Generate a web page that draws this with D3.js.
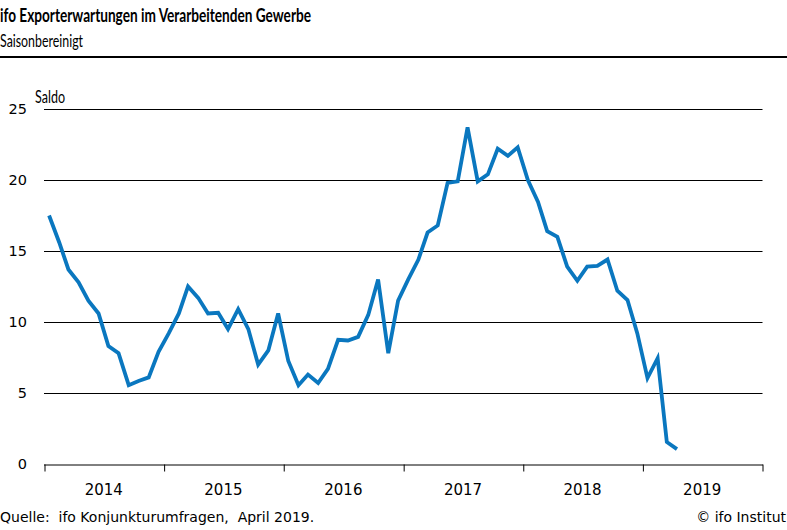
<!DOCTYPE html>
<html><head><meta charset="utf-8">
<script src="https://cdn.jsdelivr.net/npm/d3@7"></script>
<style>body{margin:0;background:#fff}svg{display:block}</style>
</head><body>
<script>
const title = "ifo Exporterwartungen im Verarbeitenden Gewerbe";
const subtitle = "Saisonbereinigt";
const unitLabel = "Saldo";
const source = "Quelle:  ifo Konjunkturumfragen,  April 2019.";
const copyright = "© ifo Institut";
const years = [2014, 2015, 2016, 2017, 2018, 2019];
const yTicks = [0, 5, 10, 15, 20, 25];
// monthly values Jan 2014 .. Apr 2019
const values = [
 17.5,15.6,13.7,12.8,11.5,10.6,8.3,7.8,5.55,5.85,6.1,7.9,
 9.2,10.6,12.5,11.7,10.6,10.65,9.5,10.9,9.5,7.0,8.0,10.6,
 7.25,5.55,6.3,5.7,6.7,8.75,8.7,8.95,10.5,13.0,7.8,11.5,
 13.0,14.4,16.3,16.8,19.8,19.9,23.7,19.9,20.4,22.2,21.7,22.3,
 20.0,18.45,16.4,16.0,13.9,12.9,13.9,13.95,14.4,12.2,11.55,9.2,
 6.05,7.45,1.55,1.05
];
const data = values.map((v,i)=>({date:new Date(2014, i, 15), v}));

const W=787,H=530;
const svg=d3.select("body").append("svg").attr("width",W).attr("height",H);
const x=d3.scaleTime().domain([new Date(2014,0,1),new Date(2020,0,1)]).range([44.5,762.5]);
const y=d3.scaleLinear().domain([0,25]).range([464,109]);

const tf="'Liberation Sans Narrow', Lato, sans-serif";
const af="'DejaVu Sans', Verdana, sans-serif";

svg.append("text").attr("x",0).attr("y",22).attr("font-family",tf).attr("font-weight","bold")
 .attr("font-size",18).attr("fill","#000").attr("textLength",311).attr("lengthAdjust","spacingAndGlyphs").text(title);
svg.append("text").attr("x",0).attr("y",47).attr("font-family",tf)
 .attr("font-size",17).attr("fill","#000").attr("textLength",83).attr("lengthAdjust","spacingAndGlyphs").text(subtitle);
svg.append("line").attr("x1",0).attr("x2",787).attr("y1",57).attr("y2",57).attr("stroke","#000").attr("stroke-width",2);
svg.append("text").attr("x",35).attr("y",103).attr("font-family",tf).attr("font-size",17)
 .attr("textLength",30).attr("lengthAdjust","spacingAndGlyphs").text(unitLabel);

// grid
const g=svg.append("g");
g.selectAll("line.grid").data(yTicks.filter(d=>d>0)).join("line")
 .attr("x1",44).attr("x2",762.5).attr("y1",d=>Math.round(y(d))+0.5).attr("y2",d=>Math.round(y(d))+0.5)
 .attr("stroke","#000").attr("stroke-width",1);
g.selectAll("text.yl").data(yTicks).join("text")
 .attr("x",27).attr("y",d=>y(d)+5).attr("text-anchor","end")
 .attr("font-family",af).attr("font-size",14.5).text(d=>d);

// x axis
const xAxis=d3.axisBottom(x).tickValues(d3.range(2014,2021).map(yr=>new Date(yr,0,1)))
 .tickSize(7).tickFormat("");
const ax=svg.append("g").attr("transform","translate(0,464.5)").call(xAxis);
ax.select(".domain").attr("stroke","#000").attr("d","M44,0.5H763");
ax.selectAll(".tick line").attr("stroke","#000");
svg.selectAll("text.xl").data(years).join("text")
 .attr("x",d=>x(new Date(d,6,1))).attr("y",495).attr("text-anchor","middle")
 .attr("font-family",af).attr("font-size",15).text(d=>d);

// line
svg.append("path").datum(data).attr("fill","none").attr("stroke","#0a77bf").attr("stroke-width",3.8)
 .attr("stroke-linejoin","miter").attr("d",d3.line().x(d=>x(d.date)).y(d=>y(d.v)));

svg.append("text").attr("x",0).attr("y",522).attr("font-family",af).attr("font-size",14).attr("xml:space","preserve").text(source);
svg.append("text").attr("x",786).attr("y",522).attr("text-anchor","end").attr("font-family",af).attr("font-size",14).text(copyright);
</script>
</body></html>
